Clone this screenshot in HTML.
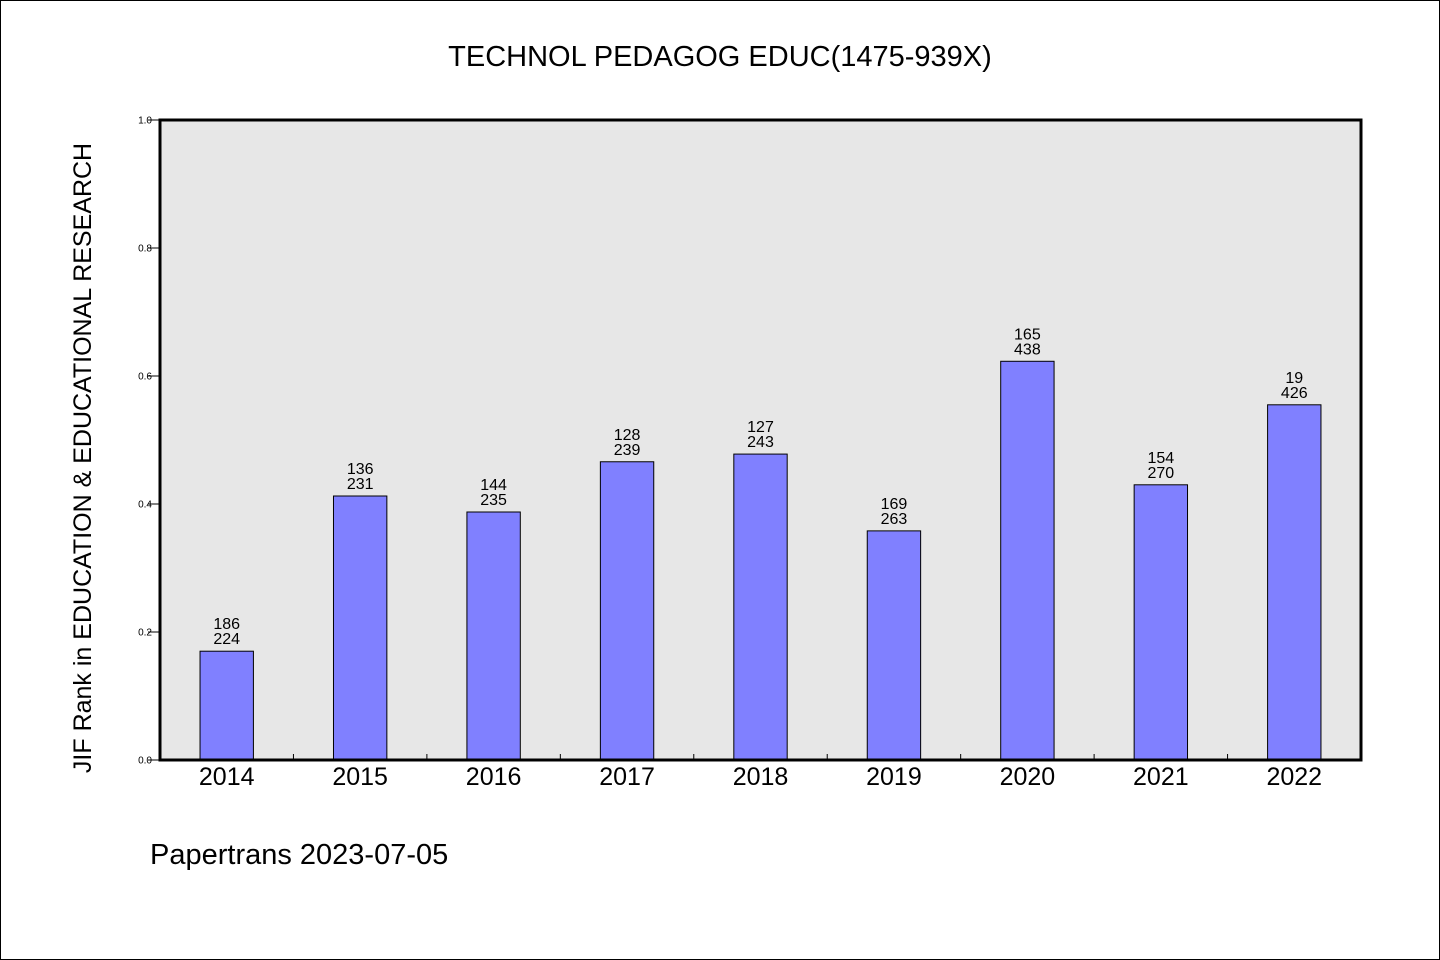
<!DOCTYPE html>
<html><head><meta charset="utf-8"><style>
body{margin:0;background:#fff}
svg{display:block}
text{font-family:"WenQuanYi Zen Hei","Liberation Sans",sans-serif;fill:#000}
</style></head><body>
<svg id="chart" width="1440" height="960">
<rect x="0.5" y="0.5" width="1439" height="959" fill="#fff" stroke="#000"/>
<text x="720" y="66" font-size="29" text-anchor="middle">TECHNOL PEDAGOG EDUC(1475-939X)</text>
<rect x="160" y="120" width="1201" height="640" fill="#e7e7e7"/>
<g id="yaxis"></g><g id="bars"></g><g id="xaxis"></g>
<rect x="160" y="120" width="1201" height="640" fill="none" stroke="#000" stroke-width="3"/>
<text transform="translate(91,458) rotate(-90)" font-size="25" text-anchor="middle">JIF Rank in EDUCATION &amp; EDUCATIONAL RESEARCH</text>
<text x="150" y="864" font-size="29">Papertrans 2023-07-05</text>
</svg>
<script>
const years=["2014","2015","2016","2017","2018","2019","2020","2021","2022"];
const ranks=["186","136","144","128","127","169","165","154","19"];
const totals=["224","231","235","239","243","263","438","270","426"];
const values=[0.170,0.4125,0.3875,0.466,0.478,0.358,0.623,0.430,0.555];
const yTicks=["0.0","0.2","0.4","0.6","0.8","1.0"];
const NS="http://www.w3.org/2000/svg";
const X0=160,W=1201,Y0=760,H=640;
const band=W/years.length;
const xc=i=>X0+band*(i+0.5);
const y=v=>Y0-v*H;
function mk(t,a,p){const e=document.createElementNS(NS,t);for(const k in a)e.setAttribute(k,a[k]);p.appendChild(e);return e;}
const ya=document.getElementById('yaxis'),bg=document.getElementById('bars'),xa=document.getElementById('xaxis');
yTicks.forEach(t=>{const v=parseFloat(t);
const l=mk('line',{x1:X0-12,x2:X0,y1:y(v),y2:y(v),stroke:'#000','stroke-width':1},ya);


const tx=mk('text',{x:X0-8,y:y(v)+3.5,'font-size':10,'text-anchor':'end'},ya);tx.textContent=t;

});
years.forEach((yr,i)=>{const bw=band*0.4;
const r=mk('rect',{x:xc(i)-bw/2,y:y(values[i]),width:bw,height:Y0-y(values[i]),fill:'#8080ff',stroke:'#000','stroke-width':1},bg);


const t1=mk('text',{x:xc(i),y:y(values[i])-22,'font-size':16,'text-anchor':'middle'},bg);t1.textContent=ranks[i];


const t2=mk('text',{x:xc(i),y:y(values[i])-7,'font-size':16,'text-anchor':'middle'},bg);t2.textContent=totals[i];


const xl=mk('text',{x:xc(i),y:Y0+25,'font-size':25,'text-anchor':'middle'},xa);xl.textContent=yr;


if(i>0){const tk=mk('line',{x1:X0+band*i,x2:X0+band*i,y1:Y0,y2:Y0-6,stroke:'#000','stroke-width':1},xa);

}});
</script>
</body></html>
